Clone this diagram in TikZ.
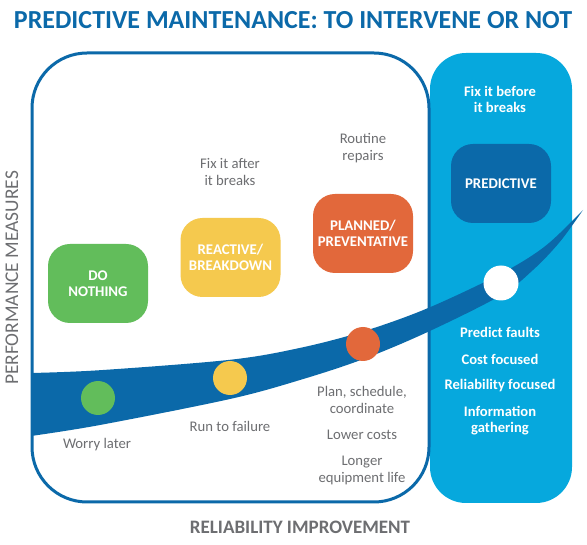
\documentclass[tikz,border=0pt]{standalone}
\usepackage{fontspec}
\setmainfont{Carlito}
\definecolor{dblue}{HTML}{0B69A9}
\definecolor{lblue}{HTML}{06A8DD}
\definecolor{cgreen}{HTML}{62BD5B}
\definecolor{cyellow}{HTML}{F5C94E}
\definecolor{corange}{HTML}{E2683B}
\definecolor{tgray}{HTML}{6D6E71}
\begin{document}
\begin{tikzpicture}[x=1pt,y=-1pt,
  catbox/.style={rectangle, rounded corners=22pt, minimum width=100pt, minimum height=79pt, text=white, font=\fontsize{14.8}{15.5}\selectfont\bfseries, align=center, inner sep=0pt},
  ballnode/.style={circle, minimum size=34pt, inner sep=0pt},
  note/.style={text=tgray, font=\fontsize{14.7}{16.5}\selectfont, align=center, inner sep=0pt},
  wnote/.style={text=white, font=\fontsize{14.6}{16}\selectfont\bfseries, align=center, inner sep=0pt}]
\useasboundingbox (0,0) rectangle (587,545);
\fill[white] (0,0) rectangle (587,545);
% panels
\fill[lblue, rounded corners=36pt] (430,53) rectangle (572,503);
\draw[dblue, line width=3pt, fill=white, rounded corners=55pt] (32,53) rectangle (429,502);
% band
\fill[dblue] plot[smooth, tension=0.55] coordinates {(31,373) (100,370.2) (230,359.8) (300,347.9) (363,331.5) (427,308.5) (500,274.2) (545,246.3) (583,210)}
  -- plot[smooth, tension=0.55] coordinates {(583,210) (560,241.7) (533,270) (500,295.8) (427,332.3) (363,359.2) (300,380) (230,399) (100,425) (31,436)} -- cycle;
% dots
\node[ballnode, fill=cgreen] (dg) at (98,398) {};
\node[ballnode, fill=cyellow] (dy) at (230,378) {};
\node[ballnode, fill=corange] (do) at (363,344) {};
\node[ballnode, fill=white, minimum size=35pt] (dw) at (501,283) {};
% category boxes
\node[catbox, fill=cgreen] (nothing) at (98,283.5) {DO\\NOTHING};
\node[catbox, fill=cyellow] (reactive) at (230.5,257.5) {REACTIVE/\\BREAKDOWN};
\node[catbox, fill=corange] (planned) at (363,233.5) {PLANNED/\\PREVENTATIVE};
\node[catbox, fill=dblue] (predictive) at (501,183.5) {PREDICTIVE};
% gray notes
\node[note] (n1) at (230,172) {Fix it after\\it breaks};
\node[note] (n2) at (363,148) {Routine\\repairs};
\node[note] (n3) at (97,445) {Worry later};
\node[note] (n4) at (230,426) {Run to failure};
\node[note] (n5) at (362,400) {Plan, schedule,\\coordinate};
\node[note] (n6) at (362,435) {Lower costs};
\node[note] (n7) at (362,470.5) {Longer\\equipment life};
% white notes
\node[wnote] (w1) at (500,99) {Fix it before\\it breaks};
\node[wnote] (w2) at (500,332) {Predict faults};
\node[wnote] (w3) at (500,359) {Cost focused};
\node[wnote] (w4) at (500,386) {Reliability focused};
\node[wnote] (w5) at (500,421) {Information\\gathering};
% title and axes
\node[text=dblue, font=\fontsize{26}{30}\selectfont\bfseries, inner sep=0pt] (title) at (293,20.5) {PREDICTIVE MAINTENANCE: TO INTERVENE OR NOT};
\node[text=tgray, font=\fontsize{19.4}{22}\selectfont, inner sep=0pt, rotate=90] (ylab) at (12,278) {PERFORMANCE MEASURES};
\node[text=tgray, font=\fontsize{19}{22}\selectfont\bfseries, inner sep=0pt] (xlab) at (300,527) {RELIABILITY IMPROVEMENT};
\end{tikzpicture}
\end{document}
